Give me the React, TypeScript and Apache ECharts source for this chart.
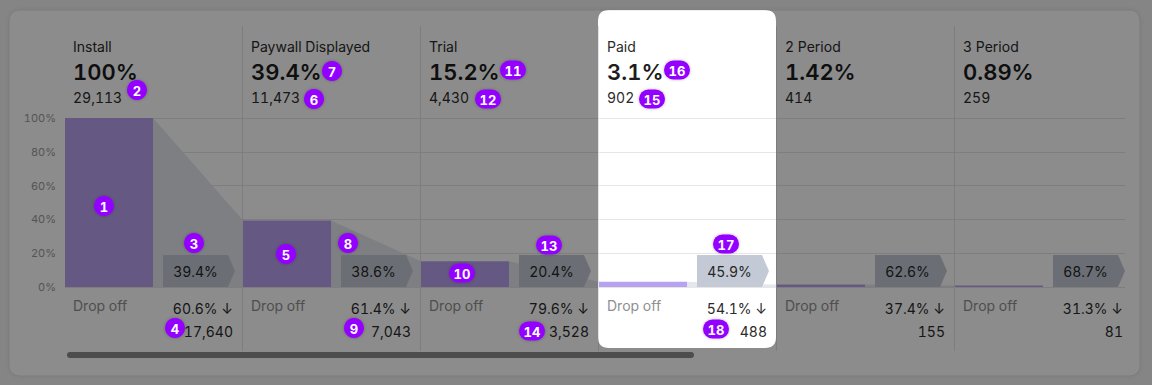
import React, { useEffect, useRef } from "react";
import * as echarts from "echarts";

// ---------------- data ----------------
const categories = ["Install", "Paywall Displayed", "Trial", "Paid", "2 Period", "3 Period"];
const stepPercent = [100, 39.4, 15.2, 3.1, 1.42, 0.89];
const stepPercentLabels = ["100%", "39.4%", "15.2%", "3.1%", "1.42%", "0.89%"];
const stepCounts = [29113, 11473, 4430, 902, 414, 259];
const conversionPercent = [39.4, 38.6, 20.4, 45.9, 62.6, 68.7];
const dropOffPercent = [60.6, 61.4, 79.6, 54.1, 37.4, 31.3];
const dropOffCounts = [17640, 7043, 3528, 488, 155, 81];
const yTicks = [0, 20, 40, 60, 80, 100];

// ---------------- layout ----------------
const W = 1152;
const H = 385;
const GRID_LEFT = 65;
const GRID_RIGHT = 27;
const GRID_TOP = 118;
const GRID_BOTTOM = 98;
const COL_W = 178;
const X_MAX = (W - GRID_LEFT - GRID_RIGHT) / COL_W;
const HIGHLIGHT_INDEX = 3;
const FONT = "Inter, 'Noto Sans', sans-serif";

// tutorial annotation badges: [label, centerX, centerY]
const annotationBadges: [string, number, number][] = [
  ["1", 104, 206], ["2", 137, 90], ["3", 194, 243], ["4", 175, 328],
  ["5", 286, 254], ["6", 314, 99], ["7", 332, 71], ["8", 348, 243],
  ["9", 354, 328], ["10", 462, 273], ["11", 513, 70], ["12", 488, 99],
  ["13", 549, 245], ["14", 532, 331], ["15", 652, 99], ["16", 677, 70],
  ["17", 726, 244], ["18", 716, 329],
];

const fmt = (n: number) => n.toLocaleString("en-US");

// mask with a rounded hole over the highlighted column
const holeL = GRID_LEFT + HIGHLIGHT_INDEX * COL_W - 1;
const holeR = holeL + COL_W;
const holeT = 10;
const holeB = 348;
const rr = 11;
const maskPath =
  `M0 0 L${W} 0 L${W} ${H} L0 ${H} Z ` +
  `M${holeL + rr} ${holeT} Q${holeL} ${holeT} ${holeL} ${holeT + rr} ` +
  `L${holeL} ${holeB - rr} Q${holeL} ${holeB} ${holeL + rr} ${holeB} ` +
  `L${holeR - rr} ${holeB} Q${holeR} ${holeB} ${holeR} ${holeB - rr} ` +
  `L${holeR} ${holeT + rr} Q${holeR} ${holeT} ${holeR - rr} ${holeT} Z`;

let registered = false;
function ensureShapes() {
  if (registered) return;
  echarts.graphic.registerShape("tourMask", echarts.graphic.extendPath(maskPath, {}) as any);
  registered = true;
}

export default function App() {
  const ref = useRef<HTMLDivElement>(null);

  useEffect(() => {
    if (!ref.current) return;
    ensureShapes();
    const chart = echarts.init(ref.current, undefined, { renderer: "svg" });
    const n = categories.length;

    const renderItem = (params: any, api: any) => {
      const i = api.value(0);
      const v = api.value(1);
      const [x0, yBase] = api.coord([i, 0]);
      const colW = api.size([1, 0])[0];
      const yTop = api.coord([i, v])[1];
      const yGridTop = api.coord([i, 100])[1];
      const barW = colW * (88 / 178);
      const children: any[] = [];

      if (i > 0) {
        children.push({
          type: "line",
          shape: { x1: x0 - 0.5, y1: yGridTop - 92, x2: x0 - 0.5, y2: yBase + 64 },
          style: { stroke: "#e3e3e3", lineWidth: 1 },
        });
      }
      if (i < n - 1) {
        const yNext = api.coord([i + 1, stepPercent[i + 1]])[1];
        children.push({
          type: "polygon",
          shape: {
            points: [
              [x0 + barW, yTop],
              [x0 + colW, yNext],
              [x0 + colW, yBase],
              [x0 + barW, yBase],
            ],
          },
          style: { fill: "#e4e8ee" },
        });
      }
      children.push({
        type: "rect",
        shape: { x: x0, y: yTop, width: barW, height: yBase - yTop },
        style: { fill: "#b9a2ef" },
      });
      const bx = x0 + barW + 10;
      const bh = 32;
      children.push({
        type: "polygon",
        shape: {
          points: [
            [bx, yBase - bh],
            [bx + 65, yBase - bh],
            [bx + 72, yBase - bh / 2],
            [bx + 65, yBase],
            [bx, yBase],
          ],
        },
        style: { fill: "#c3cad5" },
      });
      children.push({
        type: "text",
        style: {
          text: conversionPercent[i].toFixed(1) + "%",
          x: bx + 32.5,
          y: yBase - bh / 2,
          textAlign: "center",
          textVerticalAlign: "middle",
          fill: "#262626",
          font: `400 14px ${FONT}`,
        },
      });
      const tx = x0 + 8;
      const rx = x0 + colW - 10;
      children.push(
        {
          type: "text",
          style: { text: categories[i], x: tx, y: yGridTop - 72, textAlign: "left", textVerticalAlign: "middle", fill: "#2a2a2a", font: `400 14px ${FONT}` },
        },
        {
          type: "text",
          style: { text: stepPercentLabels[i], x: tx, y: yGridTop - 46, textAlign: "left", textVerticalAlign: "middle", fill: "#1c1c1c", font: `600 22px ${FONT}` },
        },
        {
          type: "text",
          style: { text: fmt(stepCounts[i]), x: tx, y: yGridTop - 21, textAlign: "left", textVerticalAlign: "middle", fill: "#2a2a2a", font: `400 14px ${FONT}` },
        },
        {
          type: "text",
          style: { text: "Drop off", x: tx, y: yBase + 18, textAlign: "left", textVerticalAlign: "middle", fill: "#8f8f8f", font: `400 14px ${FONT}` },
        },
        {
          type: "text",
          style: { text: dropOffPercent[i].toFixed(1) + "% \u2193", x: rx, y: yBase + 21, textAlign: "right", textVerticalAlign: "middle", fill: "#2a2a2a", font: `400 14px ${FONT}` },
        },
        {
          type: "text",
          style: { text: fmt(dropOffCounts[i]), x: rx, y: yBase + 44, textAlign: "right", textVerticalAlign: "middle", fill: "#2a2a2a", font: `400 14px ${FONT}` },
        }
      );
      return { type: "group", children };
    };

    const badgeElements: any[] = [];
    annotationBadges.forEach(([label, cx, cy]) => {
      const wide = label.length > 1;
      if (wide) {
        badgeElements.push({
          type: "rect",
          z: 200,
          shape: { x: cx - 13, y: cy - 9.5, width: 26, height: 19, r: 9.5 },
          style: { fill: "#9400ff", shadowBlur: 3, shadowColor: "rgba(0,0,0,0.3)" },
        });
      } else {
        badgeElements.push({
          type: "circle",
          z: 200,
          shape: { cx, cy, r: 10 },
          style: { fill: "#9400ff", shadowBlur: 3, shadowColor: "rgba(0,0,0,0.3)" },
        });
      }
      badgeElements.push({
        type: "text",
        z: 201,
        style: {
          text: label,
          x: cx,
          y: cy + 0.5,
          textAlign: "center",
          textVerticalAlign: "middle",
          fill: "#ffffff",
          font: `700 13px ${FONT}`,
        },
      });
    });

    chart.setOption({
      animation: false,
      backgroundColor: "#f2f2f2",
      grid: { left: GRID_LEFT, right: GRID_RIGHT, top: GRID_TOP, bottom: GRID_BOTTOM, containLabel: false },
      xAxis: {
        type: "value",
        min: 0,
        max: X_MAX,
        show: false,
      },
      yAxis: {
        type: "value",
        min: yTicks[0],
        max: yTicks[yTicks.length - 1],
        interval: yTicks[1] - yTicks[0],
        axisLine: { show: false },
        axisTick: { show: false },
        axisLabel: { formatter: "{value}%", color: "#9a9a9a", fontSize: 11, fontFamily: FONT, margin: 9 },
        splitLine: { lineStyle: { color: "#e6e6e6", width: 1 } },
      },
      series: [
        {
          type: "custom",
          renderItem,
          clip: false,
          z: 2,
          encode: { x: 0, y: 1 },
          data: stepPercent.map((v, i) => [i, v]),
        },
      ],
      graphic: [
        {
          type: "rect",
          z: -10,
          shape: { x: 9, y: 10, width: 1131, height: 366, r: 10 },
          style: { fill: "#ffffff", stroke: "#e2e2e2", lineWidth: 1, shadowBlur: 4, shadowColor: "rgba(0,0,0,0.06)" },
        },
        {
          type: "rect",
          z: 5,
          shape: { x: 67, y: 352, width: 627, height: 6, r: 3 },
          style: { fill: "#8c8c8c" },
        },
        {
          type: "tourMask",
          z: 100,
          x: 0,
          y: 0,
          scaleX: 1,
          scaleY: 1,
          style: { fill: "rgba(0,0,0,0.45)" },
        },
        ...badgeElements,
      ],
    });

    return () => chart.dispose();
  }, []);

  return (
    <>
      <style>{'#root svg text { font-feature-settings: "tnum" 1 !important; font-variant-numeric: tabular-nums !important; }'}</style>
      <div
        ref={ref}
        style={{ position: "fixed", left: 0, top: 0, width: W, height: H }}
      />
    </>
  );
}
